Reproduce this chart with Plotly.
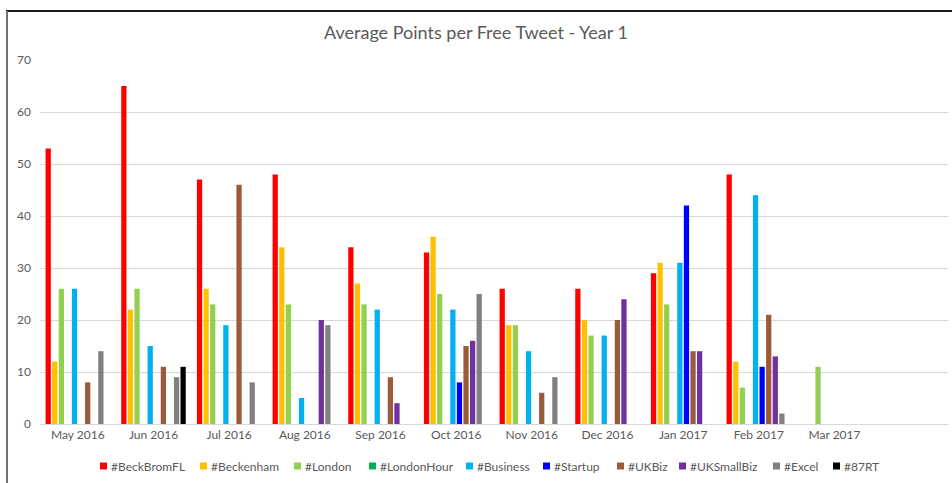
import plotly.graph_objects as go

months = ["May 2016", "Jun 2016", "Jul 2016", "Aug 2016", "Sep 2016", "Oct 2016",
          "Nov 2016", "Dec 2016", "Jan 2017", "Feb 2017", "Mar 2017"]

beckbromfl = [53, 65, 47, 48, 34, 33, 26, 26, 29, 48, None]
beckenham = [12, 22, 26, 34, 27, 36, 19, 20, 31, 12, None]
london = [26, 26, 23, 23, 23, 25, 19, 17, 23, 7, 11]
londonhour = [None] * 11
business = [26, 15, 19, 5, 22, 22, 14, 17, 31, 44, None]
startup = [None, None, None, None, None, 8, None, None, 42, 11, None]
ukbiz = [8, 11, 46, None, 9, 15, 6, 20, 14, 21, None]
uksmallbiz = [None, None, None, 20, 4, 16, None, 24, 14, 13, None]
excel = [14, 9, 8, 19, None, 25, 9, None, None, 2, None]
rt87 = [None, 11, None, None, None, None, None, None, None, None, None]

series = [
    ("#BeckBromFL", beckbromfl, "#FF0000"),
    ("#Beckenham", beckenham, "#FFC000"),
    ("#London", london, "#92D050"),
    ("#LondonHour", londonhour, "#00B050"),
    ("#Business", business, "#00B0F0"),
    ("#Startup", startup, "#0000FF"),
    ("#UKBiz", ukbiz, "#9C5B38"),
    ("#UKSmallBiz", uksmallbiz, "#7030A0"),
    ("#Excel", excel, "#808080"),
    ("#87RT", rt87, "#000000"),
]

# legend layout (left edge of each legend square, in pixels)
legend_x = [100, 200, 294, 369, 466, 543, 617, 679, 773, 833]

fig = go.Figure()
for name, vals, color in series:
    fig.add_trace(go.Bar(name=name, x=months, y=vals, marker_color=color,
                         marker_line_width=0, showlegend=False))

W, H = 952, 483
L, R, T, B = 40, 4, 60, 59
pw = W - L - R
ph = H - T - B


def px_x(p):
    return (p - L) / pw


def px_y(p):
    return (H - B - p) / ph


shapes = [
    dict(type="line", xref="paper", yref="paper", x0=px_x(6), x1=px_x(952),
         y0=px_y(11), y1=px_y(11), line=dict(color="#1a1a1a", width=2)),
    dict(type="line", xref="paper", yref="paper", x0=px_x(7), x1=px_x(7),
         y0=px_y(11), y1=px_y(483), line=dict(color="#707070", width=2)),
]
annotations = []
ly = 466
for (name, vals, color), lx in zip(series, legend_x):
    shapes.append(dict(type="rect", xref="paper", yref="paper",
                       x0=px_x(lx), x1=px_x(lx + 7), y0=px_y(ly + 3.5), y1=px_y(ly - 3.5),
                       fillcolor=color, line=dict(width=0)))
    annotations.append(dict(text=name, xref="paper", yref="paper", x=px_x(lx + 9),
                            y=px_y(ly), xanchor="left", yanchor="middle", showarrow=False,
                            font=dict(size=12, color="#595959")))

fig.update_layout(
    width=W, height=H,
    margin=dict(l=L, r=R, t=T, b=B, autoexpand=False),
    paper_bgcolor="white", plot_bgcolor="white",
    barmode="group", bargap=0.13, bargroupgap=0.2,
    showlegend=False,
    font=dict(family="Lato, Open Sans, sans-serif", color="#595959", size=12),
    title=dict(text="Average Points per Free Tweet - Year 1", x=0.5, xanchor="center",
               y=1 - 33 / H, yanchor="middle", yref="container",
               font=dict(size=18, color="#595959")),
    xaxis=dict(range=[-0.5, 11.5], showgrid=False, showline=True, linecolor="#d9d9d9",
               linewidth=1, ticks="", tickfont=dict(size=12, color="#595959")),
    yaxis=dict(range=[0, 70], dtick=10, showgrid=True, gridcolor="#d9d9d9",
               gridwidth=1, zeroline=False, showline=False, ticks="",
               tickfont=dict(size=12, color="#595959"), ticklabelstandoff=8),
    shapes=shapes,
    annotations=annotations,
)

fig.write_html("out.html", config={"displayModeBar": False},
               post_script="document.body.style.margin='0';document.body.style.overflow='hidden';")
